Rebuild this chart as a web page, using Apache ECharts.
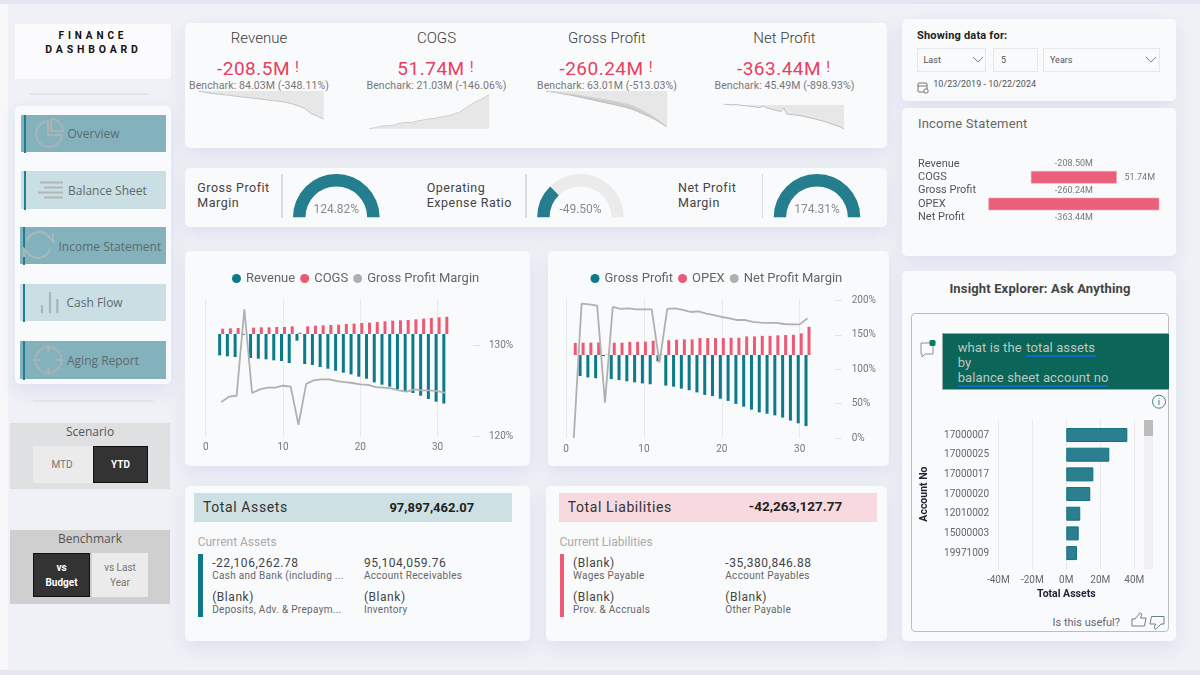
<!DOCTYPE html>
<html><head><meta charset="utf-8">
<script src="https://cdn.jsdelivr.net/npm/echarts@6/dist/echarts.min.js"></script>
<style>
html,body{margin:0;padding:0;width:1200px;height:675px;overflow:hidden;background:#eff1f6;font-family:Roboto,sans-serif}
#page{position:absolute;left:0;top:0;width:1200px;height:675px;overflow:hidden}
#chart{position:absolute;left:0;top:0;width:1200px;height:675px;z-index:5}
.b{position:absolute}.t{position:absolute;white-space:nowrap;line-height:1}
svg{position:absolute;left:0;top:0;z-index:4}
</style></head><body>
<div id="page"></div><div id="chart"></div>
<script>
// ---------- data ----------
const days=[1,2,3,4,5,6,7,8,9,10,11,12,13,14,15,16,17,18,19,20,21,22,23,24,25,26,27,28,29,30,31];
const revenue=[null,-64,-67,-69,-3,-72,-74,-76,-79,-81,-87,-20,-90,-93,-99,-104,-110,-116,-121,-128,-134,-145,-152,-158,-165,-171,-177,-185,-195,-203,-208.5];
const cogs=[null,16,17,18,1,19,20,20,21,21,23,4,23,25,26,27,28,30,31,33,34,36,38,40,41,42,44,46,48,50,51.74];
const grossMargin=[null,123.8,124.4,124.5,134,124.8,125.2,125.4,125.4,125.6,125.5,121.3,125.8,126.2,126.3,126.3,126.1,126,125.9,125.75,125.7,125.45,125.4,125.3,125.1,124.95,125.2,125.1,125.1,125,124.82];
const grossProfit=[null,-77,-82,-85,-4,-88,-92,-96,-100,-104,-107,-23,-112,-116,-123,-129,-137,-146,-150,-160,-168,-179,-189,-200,-210,-215,-221,-229,-240,-250,-260.24];
const opex=[44,45,45,46,1,45,45,48,48,49,52,2,54,56,57,57,62,62,62,62,63,63,68,68,70,70,72,73,74,79,103.2];
const netMargin=[0,195.6,194.7,192.7,51.5,190.8,187.9,188.8,187.4,187.4,187.4,109.7,187.9,188.8,186.4,183.5,184.5,181,179,176.2,174.3,171.8,171.8,169,168,167.5,167.5,166,165.5,165.5,174.31];
const sparkRevenue=[0,-10,-17,-22,-27,-32,-39,-44,-49,-54,-59,-66,-71,-76,-83,-96,-110,-130,-167,-184,-208.5];
const sparkCogs=[0,1.5,4,4.5,5,8,9.5,9,11.5,13,14.5,15.5,17.5,19,21.5,24.5,30.5,36.5,41.8,45.3,51.74];
const sparkGrossLower=[0,-7,-14,-22,-29,-39,-48,-58,-67,-77,-87,-96,-106,-116,-128,-145,-164,-183,-205,-231,-260.24];
const sparkGrossUpper=[0,-5,-12,-17,-22,-29,-36,-43,-51,-58,-65,-72,-82,-92,-101,-120,-142,-166,-193,-224,-255];
const sparkNet=[15,10,5,0,10,0,-5,-10,-15,-20,-25,-35,-40,-15,-40,-50,-65,-75,-85,-100,-45,-135,-140,-145,-150,-155,-165,-175,-185,-195,-205,-215,-229,-239,-254,-269,-284,-299,-314,-334,-363.44];
const gaugeValues=[124.82,-49.5,174.31];
const incomeCategories=['Revenue','COGS','Gross Profit','OPEX','Net Profit'];
const incomeValues=[-208.5,51.74,-260.24,103.2,-363.44];
const accountNos=['17000007','17000025','17000017','17000020','12010002','15000003','19971009'];
const accountAssets=[35.9,25.3,15.9,14.1,8.2,7.3,6.3];
const kpis=[['Revenue','-208.5M','Benchark: 84.03M (-348.11%)',259],['COGS','51.74M','Benchark: 21.03M (-146.06%)',436.5],['Gross Profit','-260.24M','Benchark: 63.01M (-513.03%)',607],['Net Profit','-363.44M','Benchark: 45.49M (-898.93%)',784.5]];

// ---------- colours ----------
const TEAL='#0c7a89',GAUGE='#247e8e',RED='#ec5a76',GREY='#b0b0b0',CARD='#f9fafc',INK='#444';

// ---------- page furniture ----------
const page=document.getElementById('page');
function box(x,y,w,h,bg,extra){const d=document.createElement('div');d.className='b';d.style.cssText=`left:${x}px;top:${y}px;width:${w}px;height:${h}px;background:${bg};`+(extra||'');page.appendChild(d);return d}
function card(x,y,w,h){return box(x,y,w,h,CARD,'border-radius:5px;box-shadow:0 7px 18px rgba(185,192,225,.33);')}
function txt(s,x,y,o){o=o||{};const d=document.createElement('div');d.className='t';d.textContent=s;
 const tx=o.align==='center'?'-50%':(o.align==='right'?'-100%':'0');
 d.style.cssText=`left:${x}px;top:${y}px;transform:translate(${tx},-50%);font-size:${o.size||11}px;color:${o.color||INK};font-weight:${o.weight||400};font-family:${o.font||'Roboto'},sans-serif;letter-spacing:${o.ls||0}px;`+(o.extra||'');page.appendChild(d);return d}

box(0,0,8,675,'#f8f8fb');box(0,0,1200,4,'#e3e5f0');box(0,670,1200,5,'#e5e7f1');

// left nav
box(15,24,156,55,'#fbfbfd');
txt('FINANCE',93,36,{align:'center',size:10,weight:700,color:'#111',ls:3.9});
txt('DASHBOARD',93.5,50,{align:'center',size:10.5,weight:700,color:'#111',ls:3.8});
box(30,92.5,118,2,'#e4e4e6');
card(15,106,156,278);
[[21.3,115,145,37,'#83b2bd','Overview',67.5,134],[21.3,171.3,145,37.4,'#c9dfe4','Balance Sheet',68,190.5],[20,227.3,145.7,37,'#83b2bd','Income Statement',58.5,246.5],[20,284,145.7,37.4,'#c9dfe4','Cash Flow',66.5,303.3],[20,341,145.7,37.7,'#83b2bd','Aging Report',67,361]].forEach(b=>{
 box(b[0],b[1],b[2],b[3],b[4]);
 box(b[0]+3,b[1],2,b[3]+1,'#1f7f8f');
 txt(b[5],b[6],b[7],{size:12,font:'Open Sans',color:'#5d6a6e'});
});
box(33,400,120,1.5,'#e4e4e6');
box(10,422.7,160,66,'#dfe0e2');
txt('Scenario',90,431.7,{align:'center',size:12,font:'Open Sans',color:'#555'});
box(33,445.7,59.7,37,'#ebebeb');txt('MTD',62,464.5,{align:'center',size:10,color:'#777'});
box(92.7,445.7,55.6,37,'#333','box-sizing:border-box;border:1px solid #111;');txt('YTD',120.5,464.5,{align:'center',size:10,weight:700,color:'#fff'});
box(10,530,160,73.7,'#cfcfcf');
txt('Benchmark',90,539.3,{align:'center',size:12,font:'Open Sans',color:'#555'});
box(33.3,553.3,57,43.4,'#333','box-sizing:border-box;border:1px solid #111;');
txt('vs',61.5,568,{align:'center',size:10,weight:700,color:'#fff'});txt('Budget',61.5,583,{align:'center',size:10,weight:700,color:'#fff'});
box(92,553.3,56.3,43.4,'#ebebeb');
txt('vs Last',120,568,{align:'center',size:10,color:'#777'});txt('Year',120,583,{align:'center',size:10,color:'#777'});

// KPI card
card(185,23,702,125);
kpis.forEach(k=>{
 txt(k[0],k[3],38,{align:'center',size:15,color:'#3a3a3a',weight:300});
 const v=txt(k[1],k[3]-5.5,68,{align:'center',size:19,color:'#e8405f',ls:.5});
 const bang=document.createElement('span');bang.textContent='!';bang.style.cssText='position:absolute;left:100%;top:1px;font-size:15px;padding-left:5px;white-space:pre';
 v.appendChild(bang);
 txt(k[2],k[3],85.7,{align:'center',size:10.5,color:'#777',ls:.1});
});
// gauge card
card(185,168.3,702,58.4);
[['Gross Profit','Margin',197.3,281],['Operating','Expense Ratio',426.7,525],['Net Profit','Margin',678,761.7]].forEach(g=>{
 txt(g[0],g[2],188.3,{size:12.5,color:'#444',ls:.5});txt(g[1],g[2],203.3,{size:12.5,color:'#444',ls:.5});
 box(g[3],174,1.5,44,'#dcdcdc');
});
// combo cards
card(185,251,345,215);card(547.7,251,341.3,215);
// statement cards
card(185,486,345,155);card(546,486,341,155);
box(194,492.7,318.4,29.3,'#cde1e5');box(558.6,492.7,318,29.3,'#f7d9df');
txt('Total Assets',203,506.5,{size:14,color:'#333',ls:.6});
txt('97,897,462.07',431.8,506.5,{align:'center',size:13,weight:700,color:'#222'});
txt('Total Liabilities',567.7,506.5,{size:14,color:'#333',ls:.6});
txt('-42,263,127.77',795.5,506.5,{align:'center',size:13.5,weight:700,color:'#222'});
txt('Current Assets',197.7,542.3,{size:12,color:'#aaa'});
txt('Current Liabilities',559.5,542.3,{size:12,color:'#aaa'});
box(198,554.3,4.5,62.4,TEAL);box(559.5,554.3,4.2,62.4,RED);
[[212.2,562.5,'-22,106,262.78','Cash and Bank (including ...'],[363.9,562.5,'95,104,059.76','Account Receivables'],[212.2,596.7,'(Blank)','Deposits, Adv. & Prepaym...'],[363.9,596.7,'(Blank)','Inventory'],
 [573,562.5,'(Blank)','Wages Payable'],[725.3,562.5,'-35,380,846.88','Account Payables'],[573,596.7,'(Blank)','Prov. & Accruals'],[725.3,596.7,'(Blank)','Other Payable']].forEach(r=>{
 txt(r[2],r[0],r[1],{size:12,color:'#444',ls:.55});txt(r[3],r[0],r[1]+13.5,{size:10,color:'#666',ls:.3});
});
// right column
card(902.3,19.3,273.4,81.7);card(902.3,107.7,273.4,148.3);card(902.3,271,273.4,369.7);
txt('Showing data for:',917,35,{size:11,weight:700,color:'#222',ls:.2});
[[917.3,68.7],[992.7,45],[1043.3,116.4]].forEach(d=>box(d[0],48.3,d[1],23.4,'transparent','box-sizing:border-box;border:1px solid #e6e7ea;'));
txt('Last',923.5,60,{size:9,color:'#555'});txt('5',1001,60,{size:9,color:'#555'});txt('Years',1050,60,{size:9,color:'#555'});
txt('10/23/2019 - 10/22/2024',933.3,84,{size:9,color:'#555'});
txt('Income Statement',918,123.3,{size:13,color:'#666',ls:.2});
txt('Insight Explorer: Ask Anything',1040,288,{align:'center',size:13,weight:700,color:'#444',ls:.15});
box(911,313,257.7,319.3,'transparent','box-sizing:border-box;border:1px solid #bdbdbd;border-radius:4px;');
box(942.3,332.7,226.4,57.3,'#0b6558','box-sizing:border-box;border:1px solid #9aa;border-right:none;');
const qa={size:13,color:'#bdc8c0',ls:.1};
txt('what is the ',957.7,346.7,qa);
txt('total assets',1026.3,346.7,qa);
txt('by',957.7,361.7,qa);
txt('balance sheet account no',957.7,377,qa);
box(1026,355,70,2,'#0a6cc8');box(958,385,150,2,'#0a6cc8');
box(1144.3,420,9,149.3,'#f0f0f3');box(1144.3,420,9,16,'#bcbcbc');
txt('Is this useful?',1120,622.3,{align:'right',size:11,color:'#667'});

// icons (decorative only)
const ns='http://www.w3.org/2000/svg';
const svg=document.createElementNS(ns,'svg');svg.setAttribute('width',1200);svg.setAttribute('height',675);
svg.innerHTML=`
<g fill="none" stroke="#a9b4b6" stroke-width="2">
<path d="M48 121a13 13 0 1 0 14 14H48Z"/><path d="M51 119a12 12 0 0 1 12 12H51Z"/>
<path d="M40 182.5h23M44 187.5h19M38 192.5h25M44 197.5h19" stroke="#b3b6b8"/>
<path d="M27 241a12.5 12.5 0 0 1 22-4l4 4v-8M50 249a12.5 12.5 0 0 1-22 4l-4-4v8" stroke="#a9b8bb"/>
<path d="M42 313v-8M50 313v-21M57.3 313v-14" stroke="#adb5b7" stroke-width="2.2"/>
<circle cx="48.3" cy="360" r="13"/><path d="M48.3 345v7M48.3 368v7M33 360h7M56 360h7"/>
</g>
<g fill="none" stroke="#777" stroke-width=".9">
<path d="M1146 57l5 5 5-5"/><path d="M973 57l5 5 5-5"/>
</g>
<g fill="none" stroke="#666" stroke-width=".9"><rect x="918" y="83" width="9" height="9" rx="1"/><path d="M918 86h9"/><circle cx="926" cy="91" r="2.2" fill="#f9fafc"/></g>
<g fill="none" stroke="#789" stroke-width=".9"><path d="M921 343h12v11h-8l-3 3v-3h-1Z"/></g>
<rect x="929.5" y="340" width="6" height="6" rx="1.5" fill="#0b7a5e"/>
<g fill="none" stroke="#37707c" stroke-width=".9"><circle cx="1159" cy="401.7" r="6.5"/><path d="M1159 400v5M1159 398v1"/></g>
<g fill="none" stroke="#5d7378" stroke-width=".9"><path d="M1132 619h3l5-6c1.5 0 2 1 1.500 2.500l-1 2.500h5.500l-1.500 8h-9.500h-3Z"/><path d="M1164 624h-3l-5 5c-1.500 0-2-1-1.500-2l1-3h-5.500l1.500-7.500h9.500h3Z"/></g>`;
page.appendChild(svg);

// ---------- chart ----------
const grid=[],xAxis=[],yAxis=[],series=[],legend=[];
const hidden={show:false};
function addGrid(r){grid.push({left:r[0],top:r[1],width:r[2],height:r[3],containLabel:false});return grid.length-1}
function spark(rect,arrays,min,max){
 const g=addGrid(rect);
 xAxis.push({type:'category',gridIndex:g,show:false,boundaryGap:false,data:arrays[0].values.map((_,i)=>i)});
 yAxis.push({type:'value',gridIndex:g,show:false,min:min,max:max,splitLine:hidden});
 arrays.forEach(a=>series.push({type:'line',name:a.name,xAxisIndex:xAxis.length-1,yAxisIndex:yAxis.length-1,data:a.values,showSymbol:false,silent:true,
  lineStyle:{color:a.line,width:1},areaStyle:{color:a.fill,opacity:1},itemStyle:{color:a.line}}));
}
spark([198.3,91,125.4,28.3],[{name:'Revenue trend',values:sparkRevenue,line:'#c4c4c4',fill:'#e7e7e7'}],-208.5,0);
spark([369.3,94,120,34.7],[{name:'COGS trend',values:sparkCogs,line:'#cfcfcf',fill:'#e7e7e7'}],0,51.74);
spark([546,91,120.7,36],[{name:'Gross trend lower',values:sparkGrossLower,line:'#bdbdbd',fill:'#cdcdcd'},{name:'Gross trend upper',values:sparkGrossUpper,line:'#d2d2d2',fill:'#e7e7e7'}],-260.24,0);
spark([723.7,104,120.3,25.3],[{name:'Net trend',values:sparkNet,line:'#bdbdbd',fill:'#e7e7e7'}],-363.44,15);

// gauges
[[336.3,0,124.82],[580.5,-100,100],[817,0,174.31]].forEach((g,i)=>series.push({type:'gauge',center:[g[0],217.3],radius:43.3,startAngle:180,endAngle:0,min:g[1],max:g[2],
 progress:{show:true,width:12.4,roundCap:false,itemStyle:{color:GAUGE}},axisLine:{lineStyle:{width:12.4,color:[[1,'#ebebeb']]},roundCap:false},
 pointer:hidden,anchor:hidden,axisTick:hidden,splitLine:hidden,axisLabel:hidden,title:hidden,
 detail:{show:true,offsetCenter:[0,-7],formatter:v=>v.toFixed(2)+'%',fontSize:12,fontWeight:'normal',color:'#8b8b8b',fontFamily:'Roboto'},
 data:[{value:gaugeValues[i]}]}));

// combo charts
function combo(o){
 const g=addGrid(o.rect);
 const axisLabel={color:'#777',fontSize:10,fontFamily:'Roboto',showMaxLabel:false,margin:6};
 xAxis.push({type:'value',gridIndex:g,min:0,max:o.xMax,interval:10,axisLine:hidden,axisTick:hidden,axisLabel,
   splitLine:{show:true,showMaxLine:false,lineStyle:{color:'#e9e9ec',width:1}}});
 const xi=xAxis.length-1;
 yAxis.push({type:'value',gridIndex:g,show:false,min:o.barMin,max:o.barMax,splitLine:hidden});
 const yb=yAxis.length-1;
 yAxis.push({type:'value',gridIndex:g,position:'right',min:o.pMin,max:o.pMax,interval:o.pInt,axisLine:hidden,
  axisTick:{show:true,length:7,lineStyle:{color:'#e2e2e2'},customValues:o.pTicks},
  axisLabel:{color:'#777',fontSize:10,fontFamily:'Roboto',margin:o.pMargin,align:'left',padding:[3,0,0,0],formatter:'{value}%',customValues:o.pTicks},splitLine:hidden});
 const yl=yAxis.length-1;
 const bar=(name,vals,color)=>series.push({type:'bar',name,xAxisIndex:xi,yAxisIndex:yb,barWidth:3,barGap:'0%',itemStyle:{color},data:days.map((d,i)=>[d,vals[i]])});
 bar(o.n[0],o.a,TEAL);bar(o.n[1],o.b,RED);
 series.push({type:'line',name:o.n[2],xAxisIndex:xi,yAxisIndex:yl,showSymbol:false,z:5,connectNulls:false,lineStyle:{color:GREY,width:1.8},itemStyle:{color:GREY},data:days.map((d,i)=>[d,o.c[i]])});
 legend.push({left:o.legendLeft,top:272,padding:0,itemWidth:9,itemHeight:9,itemGap:5,icon:'circle',selectedMode:false,data:o.n,textStyle:{color:'#666',fontSize:13,fontFamily:'Roboto'}});
}
combo({rect:[205.7,299,267.3,137.7],xMax:34.58,barMin:-308,barMax:105,pMin:120,pMax:135.13,pInt:10,pTicks:[120,130],pMargin:16,a:revenue,b:cogs,c:grossMargin,n:['Revenue','COGS','Gross Profit Margin'],legendLeft:232});
combo({rect:[566,299,269,139],xMax:34.53,barMin:-303.8,barMax:205,pMin:0,pMax:202.4,pInt:50,pTicks:[0,50,100,150,200],pMargin:16.7,a:grossProfit,b:opex,c:netMargin,n:['Gross Profit','OPEX','Net Profit Margin'],legendLeft:590.5});

// income funnel
{
 const g=addGrid([988.7,157.3,170.3,66.7]);
 xAxis.push({type:'value',gridIndex:g,show:false,min:-51.6,max:51.6,splitLine:hidden});
 yAxis.push({type:'category',gridIndex:g,inverse:true,data:incomeCategories,axisLine:hidden,axisTick:hidden,splitLine:hidden,
  axisLabel:{interval:0,align:'left',margin:70.7,padding:[2,0,0,0],color:'#555',fontSize:11,fontFamily:'Roboto'}});
 const gridRight=988.7+170.3;
 series.push({type:'custom',name:'Income Statement',xAxisIndex:xAxis.length-1,yAxisIndex:yAxis.length-1,encode:{x:0,y:1},
  data:incomeValues.map((v,i)=>[v,i]),
  renderItem(params,api){
   const v=api.value(0),idx=api.value(1),c=api.coord([0,idx]),h=api.size([0,1])[1]*0.9;
   const label=v.toFixed(2)+'M',font={fill:'#777',fontSize:9,fontFamily:'Roboto',verticalAlign:'middle'};
   if(v<=0) return {type:'text',style:Object.assign({text:label,x:c[0],y:c[1],align:'center'},font)};
   const l=api.coord([-v/2,idx])[0],r=api.coord([v/2,idx])[0],kids=[{type:'rect',shape:{x:l,y:c[1]-h/2,width:r-l,height:h},style:{fill:'#ea5f79',stroke:'#f3a5b3',lineWidth:.6}}];
   if(r+40<gridRight) kids.push({type:'text',style:Object.assign({text:label,x:r+8,y:c[1],align:'left'},font)});
   return {type:'group',children:kids};
  }});
}

// Q&A bar chart: gridlines grid + bars grid
{
 const g=addGrid([998.3,420,136,149.3]);
 xAxis.push({type:'value',gridIndex:g,min:-40,max:40,interval:20,axisLine:hidden,axisTick:hidden,
  axisLabel:{color:'#666',fontSize:10,fontFamily:'Roboto',margin:6,formatter:'{value}M'},
  name:'Total Assets',nameLocation:'middle',nameGap:20,nameTextStyle:{color:'#1f2233',fontWeight:'bold',fontSize:10.5,fontFamily:'Roboto'},
  splitLine:{lineStyle:{color:'#e9e9ec'}}});
 yAxis.push({type:'value',gridIndex:g,show:false,splitLine:hidden});
 const b=addGrid([998.3,425.2,136,137.7]);
 xAxis.push({type:'value',gridIndex:b,show:false,min:-40,max:40,splitLine:hidden});
 yAxis.push({type:'category',gridIndex:b,inverse:true,data:accountNos,axisLine:hidden,axisTick:hidden,splitLine:hidden,
  axisLabel:{interval:0,color:'#666',fontSize:10,fontFamily:'Roboto',margin:9.3,padding:[3,0,0,0]},
  name:'Account No',nameLocation:'middle',nameGap:68,nameRotate:90,nameTextStyle:{color:'#1f2233',fontWeight:'bold',fontSize:10.5,fontFamily:'Roboto'}});
 series.push({type:'bar',name:'Total Assets',xAxisIndex:xAxis.length-1,yAxisIndex:yAxis.length-1,barWidth:14,itemStyle:{color:'#2c7f8f',borderColor:'#10727f',borderWidth:1},data:accountAssets});
}

const chart=echarts.init(document.getElementById('chart'),null,{renderer:'canvas'});
chart.setOption({animation:false,backgroundColor:'transparent',tooltip:{show:false},legend,grid,xAxis,yAxis,series});
</script>
</body></html>
